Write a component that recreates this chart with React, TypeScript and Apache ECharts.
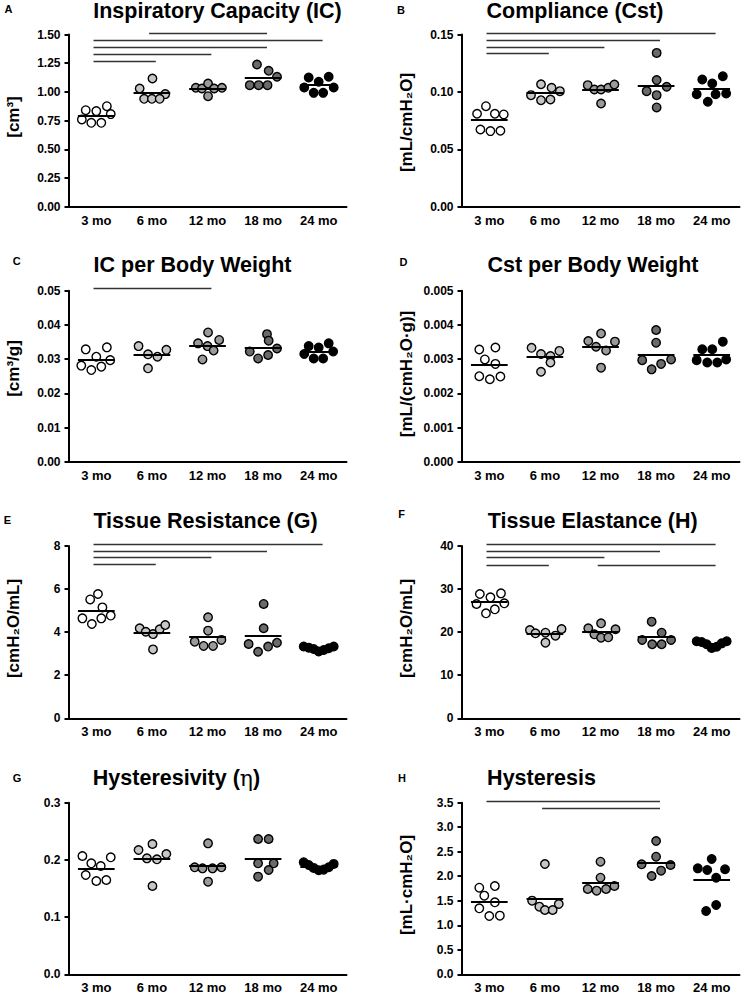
import React, { useEffect, useRef } from 'react';
import * as echarts from 'echarts';

const FONT = '"Liberation Sans", Arial, Helvetica, sans-serif';

const categories = ['3 mo', '6 mo', '12 mo', '18 mo', '24 mo'];
const groupFill = ['#ffffff', '#c6c6c6', '#9a9a9a', '#6a6a6a', '#000000'];

// A: Inspiratory Capacity (cm3)
const icValues = [
  [0.841, 0.833, 0.876, 0.760, 0.731, 0.731, 0.807],
  [1.030, 1.117, 0.981, 0.940, 0.940, 0.940],
  [1.036, 1.030, 1.073, 1.030, 1.036, 0.963],
  [1.239, 1.184, 1.132, 1.059, 1.059, 1.059],
  [1.126, 1.132, 1.088, 1.039, 0.992, 0.992, 1.039],
];
const icJitter = [
  [-0.19, 0, 0.19, -0.26, -0.09, 0.09, 0.26],
  [-0.22, 0.01, 0.24, -0.14, 0, 0.14],
  [-0.21, -0.1, 0.01, 0.12, 0.26, 0.01],
  [-0.11, 0.1, 0.25, -0.24, -0.08, 0.08],
  [-0.18, 0.18, 0, -0.26, -0.09, 0.08, 0.27],
];
const icBars = [[1, 3, 1.51], [0, 4, 1.45], [0, 3, 1.39], [0, 2, 1.33], [0, 1, 1.27]];

// B: Compliance (mL/cmH2O)
const cstValues = [
  [0.0876, 0.081, 0.0804, 0.081, 0.0673, 0.0659, 0.0662],
  [0.1067, 0.1036, 0.1007, 0.0972, 0.0928, 0.0934],
  [0.1059, 0.1021, 0.1021, 0.1036, 0.1065, 0.0899],
  [0.134, 0.1103, 0.1007, 0.1045, 0.0972, 0.0865],
  [0.1108, 0.1074, 0.1137, 0.098, 0.098, 0.0987, 0.0914],
];
const cstJitter = [
  [-0.06, 0.1, 0.26, -0.22, -0.16, 0.02, 0.2],
  [-0.07, 0.12, 0.27, -0.25, -0.07, 0.1],
  [-0.23, -0.11, 0.01, 0.14, 0.25, 0.01],
  [0.01, 0.01, -0.17, 0.19, 0.01, 0.01],
  [-0.17, 0.01, 0.2, -0.27, 0.07, 0.26, -0.07],
];
const cstBars = [[0, 4, 0.151], [0, 3, 0.145], [0, 2, 0.139], [0, 1, 0.1335]];

// C: IC per body weight (cm3/g)
const icBwValues = [
  [0.03285, 0.03343, 0.0307, 0.0281, 0.0268, 0.0278, 0.0297],
  [0.0338, 0.0314, 0.0307, 0.0327, 0.0273],
  [0.0378, 0.0346, 0.0356, 0.0338, 0.0325, 0.0299],
  [0.0373, 0.0354, 0.0331, 0.0322, 0.0302, 0.0312],
  [0.0338, 0.0334, 0.0346, 0.0315, 0.0302, 0.0302, 0.0322],
];
const icBwJitter = [
  [-0.19, 0.19, 0, -0.27, -0.09, 0.09, 0.25],
  [-0.24, -0.07, 0.1, 0.26, -0.07],
  [0.01, -0.17, 0.21, 0, 0.11, -0.09],
  [0.07, 0.1, 0.25, -0.24, -0.09, 0.09],
  [-0.18, 0, 0.18, -0.26, -0.09, 0.08, 0.26],
];
const icBwBars = [[0, 2, 0.0507]];

// D: Cst per body weight (mL/(cmH2O·g))
const cstBwValues = [
  [0.00328, 0.00334, 0.00299, 0.00286, 0.0025, 0.00241, 0.00249],
  [0.00333, 0.00315, 0.00309, 0.00324, 0.0029, 0.00263],
  [0.00375, 0.00353, 0.00351, 0.00336, 0.00325, 0.00275],
  [0.00385, 0.00348, 0.00297, 0.00299, 0.0027, 0.00286],
  [0.00329, 0.00329, 0.00351, 0.00297, 0.0029, 0.0029, 0.00299],
];
const cstBwJitter = [
  [-0.18, 0.11, -0.08, 0.11, -0.18, 0.01, 0.2],
  [-0.24, -0.07, 0.1, 0.26, 0.1, -0.07],
  [0.01, -0.22, 0.26, -0.08, 0.1, 0.01],
  [0, 0, -0.25, 0.27, -0.08, 0.09],
  [-0.17, 0.01, 0.2, -0.27, -0.08, 0.1, 0.26],
];
const cstBwBars: number[][] = [];

// E: Tissue resistance G (cmH2O/mL)
const gValues = [
  [5.77, 5.52, 5.15, 4.64, 4.64, 4.77, 4.38],
  [4.18, 4.02, 3.91, 4.13, 4.33, 3.2],
  [4.69, 4.07, 3.56, 3.36, 3.36, 3.64],
  [5.31, 4.18, 3.45, 3.09, 3.33, 3.51],
  [3.33, 3.28, 3.22, 3.1, 3.17, 3.25, 3.33],
];
const gJitter = [
  [0.03, -0.11, 0.11, -0.25, 0.09, 0.26, -0.08],
  [-0.22, -0.11, 0.02, 0.14, 0.24, 0.02],
  [0.01, 0.01, -0.23, -0.07, 0.1, 0.25],
  [0.01, 0.01, -0.26, -0.09, 0.09, 0.25],
  [-0.27, -0.18, -0.09, 0, 0.09, 0.18, 0.27],
];
const gBars = [[0, 4, 8.09], [0, 3, 7.77], [0, 2, 7.46], [0, 1, 7.15]];

// F: Tissue elastance H (cmH2O/mL)
const hValues = [
  [28.86, 28.09, 29.01, 26.54, 26.69, 24.37, 25.3],
  [20.5, 19.73, 19.88, 19.19, 20.74, 17.56],
  [20.89, 19.5, 22.05, 18.72, 18.8, 20.66],
  [22.44, 19.88, 18.18, 17.18, 17.18, 18.18],
  [17.9, 17.7, 17.2, 16.3, 16.6, 17.4, 17.9],
];
const hJitter = [
  [-0.17, 0.02, 0.21, -0.23, 0.27, -0.06, 0.1],
  [-0.27, -0.17, 0.01, 0.19, 0.3, 0.01],
  [-0.22, -0.11, 0.01, 0.01, 0.14, 0.27],
  [-0.08, 0.1, -0.25, -0.07, 0.1, 0.27],
  [-0.27, -0.18, -0.09, 0, 0.09, 0.18, 0.27],
];
const hBars = [[0, 4, 40.5], [0, 3, 38.8], [0, 2, 37.3], [0, 1, 35.6], [2, 4, 35.6]];

// G: Hysteresivity (eta)
const etaValues = [
  [0.2068, 0.194, 0.1893, 0.2045, 0.1736, 0.1631, 0.1648],
  [0.2173, 0.2278, 0.2027, 0.201, 0.2103, 0.1544],
  [0.2289, 0.187, 0.1852, 0.1852, 0.187, 0.162],
  [0.2365, 0.2365, 0.194, 0.194, 0.1823, 0.1707],
  [0.196, 0.191, 0.186, 0.182, 0.183, 0.187, 0.193],
];
const etaJitter = [
  [-0.25, -0.09, 0.08, 0.26, -0.19, 0, 0.18],
  [-0.24, 0.01, -0.09, 0.09, 0.26, 0.01],
  [0.01, -0.23, -0.09, 0.09, 0.25, 0.01],
  [-0.09, 0.1, -0.09, 0.19, 0.1, -0.09],
  [-0.27, -0.18, -0.09, 0, 0.09, 0.18, 0.27],
];
const etaBars: number[][] = [];

// H: Hysteresis (mL·cmH2O)
const hystValues = [
  [1.767, 1.8, 1.604, 1.468, 1.346, 1.189, 1.196],
  [2.25, 1.502, 1.38, 1.312, 1.312, 1.434],
  [2.297, 1.971, 1.74, 1.706, 1.74, 1.801],
  [2.718, 2.399, 2.243, 2.229, 2.005, 2.114],
  [2.352, 2.161, 2.127, 2.141, 1.971, 1.414, 1.291],
];
const hystJitter = [
  [-0.18, 0.1, -0.09, 0.1, -0.18, 0, 0.19],
  [0, -0.23, -0.1, 0, 0.14, 0.25],
  [0, 0, -0.23, -0.07, 0.1, 0.25],
  [0, 0, -0.26, 0.26, -0.08, 0.09],
  [0, -0.25, -0.08, 0.24, 0.08, 0.08, -0.1],
];
const hystBars = [[0, 3, 3.52], [1, 3, 3.39]];

type Panel = {
  letter: string; title: string; yName: string;
  values: number[][]; jitter: number[][]; bars: number[][];
  max: number; interval: number; dec: number;
  col: number; row: number;
  titleX: number; titleY: number; letterX: number; letterY: number;
  nameX: number; nameY: number;
};

const panels: Panel[] = [
  { letter: 'A', title: '{b|Inspiratory Capacity (IC)}', yName: '[cm³]', values: icValues, jitter: icJitter, bars: icBars, max: 1.5, interval: 0.25, dec: 2, col: 0, row: 0, titleX: 217.5, titleY: 10.5, letterX: 8.5, letterY: 9, nameX: 13.5, nameY: 117 },
  { letter: 'B', title: '{b|Compliance (Cst)}', yName: '[mL/cmH₂O]', values: cstValues, jitter: cstJitter, bars: cstBars, max: 0.15, interval: 0.05, dec: 2, col: 1, row: 0, titleX: 575, titleY: 10.5, letterX: 401, letterY: 9.5, nameX: 406, nameY: 122.5 },
  { letter: 'C', title: '{b|IC per Body Weight}', yName: '[cm³/g]', values: icBwValues, jitter: icBwJitter, bars: icBwBars, max: 0.05, interval: 0.01, dec: 2, col: 0, row: 1, titleX: 192.5, titleY: 265, letterX: 16.7, letterY: 260.5, nameX: 13.5, nameY: 368.5 },
  { letter: 'D', title: '{b|Cst per Body Weight}', yName: '[mL/(cmH₂O·g)]', values: cstBwValues, jitter: cstBwJitter, bars: cstBwBars, max: 0.005, interval: 0.001, dec: 3, col: 1, row: 1, titleX: 593, titleY: 265, letterX: 403.5, letterY: 261.5, nameX: 406, nameY: 374 },
  { letter: 'E', title: '{b|Tissue Resistance (G)}', yName: '[cmH₂O/mL]', values: gValues, jitter: gJitter, bars: gBars, max: 8, interval: 2, dec: 0, col: 0, row: 2, titleX: 205.5, titleY: 521, letterX: 7.5, letterY: 520, nameX: 13.5, nameY: 628.5 },
  { letter: 'F', title: '{b|Tissue Elastance (H)}', yName: '[cmH₂O/mL]', values: hValues, jitter: hJitter, bars: hBars, max: 40, interval: 10, dec: 0, col: 1, row: 2, titleX: 592.7, titleY: 521, letterX: 401.5, letterY: 513.5, nameX: 406, nameY: 628.5 },
  { letter: 'G', title: '{b|Hysteresivity (}{g|η}{b|)}', yName: '', values: etaValues, jitter: etaJitter, bars: etaBars, max: 0.3, interval: 0.1, dec: 1, col: 0, row: 3, titleX: 176.5, titleY: 778, letterX: 17, letterY: 777.5, nameX: 13.5, nameY: 885 },
  { letter: 'H', title: '{b|Hysteresis}', yName: '[mL·cmH₂O]', values: hystValues, jitter: hystJitter, bars: hystBars, max: 3.5, interval: 0.5, dec: 1, col: 1, row: 3, titleX: 541.5, titleY: 778, letterX: 402, letterY: 777.5, nameX: 406, nameY: 885 },
];

const colLeft = [68.5, 461.5];
const rowTop = [34.5, 290.7, 546, 802.7];
const rowHeight = [172.3, 171, 172.3, 171.6];
const GRID_W = 278;

const mean = (a: number[]) => a.reduce((s, v) => s + v, 0) / a.length;

function buildOption() {
  const grid: any[] = [];
  const xAxis: any[] = [];
  const yAxis: any[] = [];
  const series: any[] = [];
  const graphic: any[] = [];

  panels.forEach((p, i) => {
    grid.push({ left: colLeft[p.col], top: rowTop[p.row], width: GRID_W, height: rowHeight[p.row], containLabel: false });
    xAxis.push({
      type: 'category', gridIndex: i, data: categories, boundaryGap: true,
      axisLine: { onZero: false, lineStyle: { color: '#000', width: 2 } },
      axisTick: { alignWithLabel: true, length: 4, lineStyle: { color: '#000', width: 2 } },
      axisLabel: { color: '#000', fontWeight: 'bold', fontSize: 13, fontFamily: FONT, margin: 7 },
      splitLine: { show: false },
    });
    xAxis.push({ type: 'value', gridIndex: i, min: -0.5, max: 4.5, show: false, splitLine: { show: false }, axisLine: { onZero: false } });
    yAxis.push({
      type: 'value', gridIndex: i, min: 0, max: p.max, interval: p.interval,
      axisLine: { show: true, onZero: false, lineStyle: { color: '#000', width: 2 } },
      axisTick: { show: true, length: 4, lineStyle: { color: '#000', width: 2 } },
      axisLabel: { color: '#000', fontWeight: 'bold', fontSize: 12, fontFamily: FONT, margin: 8, formatter: (v: number) => v.toFixed(p.dec) },
      splitLine: { show: false },
    });
    const xi = i * 2 + 1;
    p.values.forEach((vals, g) => {
      series.push({
        type: 'scatter', xAxisIndex: xi, yAxisIndex: i, symbol: 'circle', symbolSize: 8.5, z: 2,
        itemStyle: { color: groupFill[g], borderColor: '#000', borderWidth: 1.4, opacity: 1 },
        data: vals.map((v, k) => [g + p.jitter[g][k], v]),
        silent: true,
      });
    });
    series.push({
      type: 'lines', coordinateSystem: 'cartesian2d', xAxisIndex: xi, yAxisIndex: i, z: 3, silent: true, clip: false,
      lineStyle: { color: '#000', width: 2, opacity: 1 },
      data: p.values.map((vals, g) => ({ coords: [[g - 0.33, mean(vals)], [g + 0.33, mean(vals)]] })),
    });
    if (p.bars.length) {
      series.push({
        type: 'lines', coordinateSystem: 'cartesian2d', xAxisIndex: xi, yAxisIndex: i, z: 3, silent: true, clip: false,
        lineStyle: { color: '#333', width: 1.4, opacity: 1 },
        data: p.bars.map((b) => ({ coords: [[b[0] - 0.05, b[2]], [b[1] + 0.07, b[2]]] })),
      });
    }
    graphic.push({
      type: 'text', x: p.titleX, y: p.titleY,
      style: {
        text: p.title, align: 'center', verticalAlign: 'middle', textAlign: 'center', textVerticalAlign: 'middle',
        rich: {
          b: { fontSize: 21.5, fontWeight: 'bold', fontFamily: FONT, fill: '#000' },
          g: { fontSize: 22, fontWeight: 'normal', fontFamily: '"DejaVu Serif", "Liberation Serif", serif', fill: '#000' },
        },
      },
    });
    graphic.push({
      type: 'text', x: p.letterX, y: p.letterY,
      style: { text: p.letter, align: 'center', verticalAlign: 'middle', textAlign: 'center', textVerticalAlign: 'middle', fontSize: 11, fontWeight: 'bold', fontFamily: FONT, fill: '#000' },
    });
    if (p.yName) {
      graphic.push({
        type: 'text', x: p.nameX, y: p.nameY, rotation: Math.PI / 2,
        style: { text: p.yName, align: 'center', verticalAlign: 'middle', textAlign: 'center', textVerticalAlign: 'middle', fontSize: 17, fontWeight: 'bold', fontFamily: FONT, fill: '#000' },
      });
    }
  });

  return { animation: false, backgroundColor: '#fff', grid, xAxis, yAxis, series, graphic };
}

export default function App() {
  const ref = useRef<HTMLDivElement>(null);
  useEffect(() => {
    if (!ref.current) return;
    const chart = echarts.init(ref.current, undefined, { renderer: 'svg' });
    chart.setOption(buildOption() as any);
    return () => chart.dispose();
  }, []);
  return <div ref={ref} style={{ position: 'absolute', left: 0, top: 0, width: 742, height: 996, background: '#fff' }} />;
}
